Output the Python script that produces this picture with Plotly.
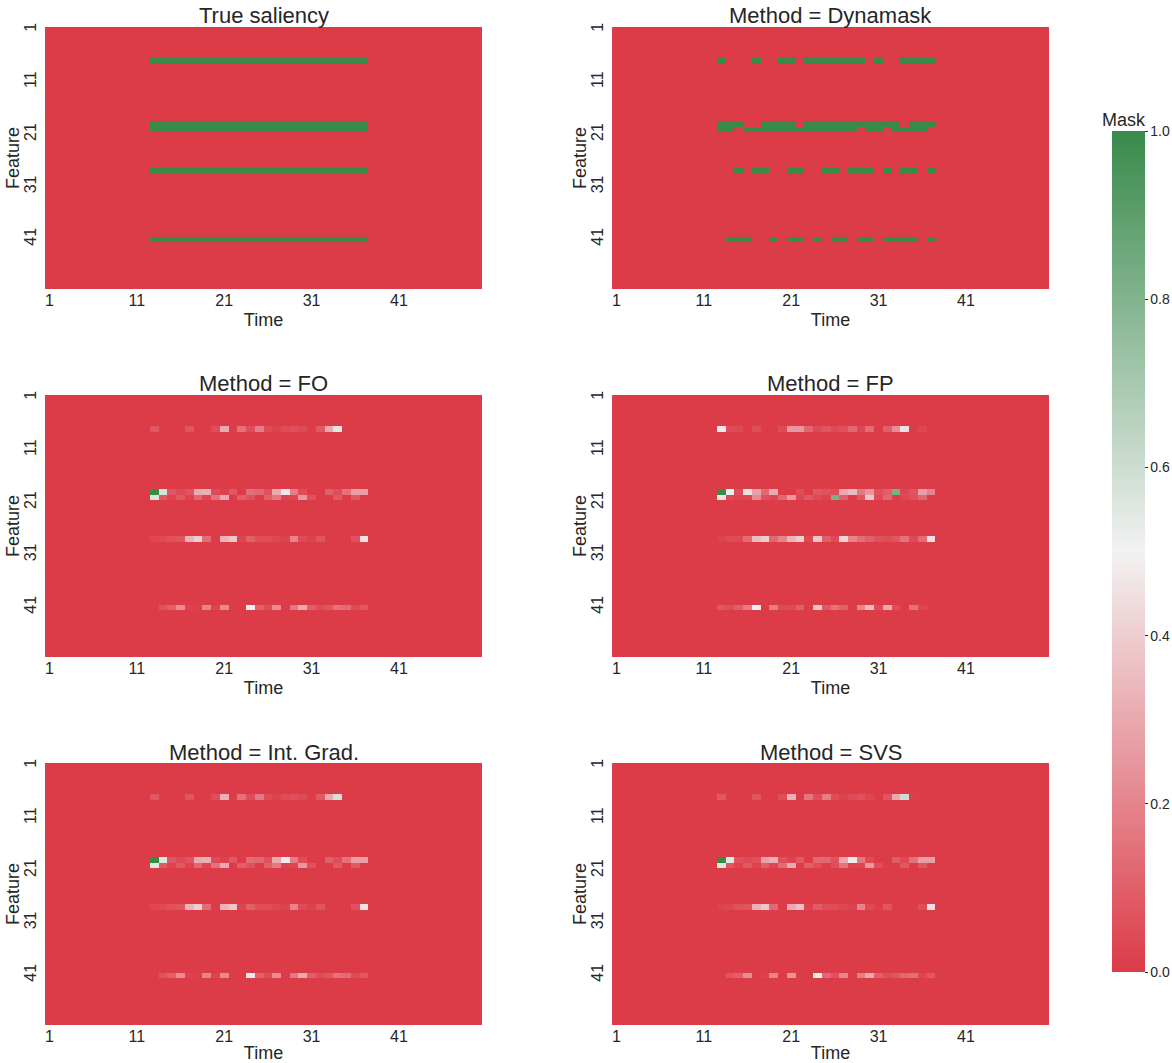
import numpy as np
import plotly.graph_objects as go

# ---- grid -----------------------------------------------------------------
N_TIME = 50
N_FEAT = 50
TIME_START = 13          # first time step of the salient window (1-based)
WINDOW = 25              # number of salient time steps
TICKS = [1, 11, 21, 31, 41]

# salient features (1-based)
SALIENT_FEATURES = [7, 19, 20, 28, 41]

# ---- True saliency: full window on every salient feature -------------------
true_f7 = [1] * WINDOW
true_f19 = [1] * WINDOW
true_f20 = [1] * WINDOW
true_f28 = [1] * WINDOW
true_f41 = [1] * WINDOW

# ---- Dynamask (binary mask), time steps 13..37 ----------------------------
dyn_f7 = [1, 0, 0, 0, 1, 0, 0, 1, 1, 0, 1, 1, 1, 1, 1, 1, 1, 0, 1, 0, 0, 1, 1, 1, 1]
dyn_f19 = [1, 1, 1, 0, 0, 1, 1, 1, 1, 0, 1, 1, 1, 1, 1, 1, 1, 1, 1, 1, 1, 0, 1, 1, 1]
dyn_f20 = [1, 1, 0, 1, 1, 1, 1, 1, 1, 1, 1, 1, 1, 1, 1, 1, 0, 1, 1, 0, 1, 1, 1, 1, 0]
dyn_f28 = [0, 0, 1, 0, 1, 1, 0, 0, 1, 1, 0, 0, 1, 1, 0, 1, 1, 1, 0, 1, 0, 1, 1, 0, 1]
dyn_f41 = [0, 1, 1, 1, 0, 0, 1, 0, 1, 1, 0, 1, 0, 1, 1, 0, 1, 1, 0, 1, 1, 1, 1, 0, 1]

# ---- FO --------------------------------------------------------------------
fo_f7 = [.08, 0, 0, 0, .07, 0, 0, .05, .30, 0, .15, .05, .18, .04, .02, .04, .06, .04, 0, .08, .30, .55, 0, 0, 0]
fo_f19 = [1.0, .57, .08, .04, .07, .30, .32, .05, .02, .08, 0, .14, .12, .06, .30, .47, .18, .05, 0, 0, .10, .05, .15, .27, .27]
fo_f20 = [.56, .08, .02, .08, .02, .12, .03, .15, .30, 0, .10, .06, 0, .10, .17, .02, .03, .25, .06, 0, 0, .08, 0, .08, 0]
fo_f28 = [.03, .04, .06, .07, .33, .40, .13, 0, .33, .38, .02, .10, .05, .05, .03, .02, .20, .04, .02, .07, 0, 0, 0, .06, .45]
fo_f41 = [0, .06, .10, .22, .02, .01, .20, .02, .22, 0, 0, .52, .10, .05, .22, 0, .17, .30, .10, .05, .07, .15, .13, .04, .08]

# ---- FP --------------------------------------------------------------------
fp_f7 = [.47, .04, .04, 0, .05, 0, 0, .04, .25, .25, .12, .04, .07, .04, .06, .12, .03, .13, 0, .10, .22, .45, 0, .03, 0]
fp_f19 = [1.0, .52, .05, .45, .28, .12, .30, 0, 0, .05, 0, .08, .06, .05, .30, .35, .17, .25, .06, .10, .82, .03, .07, .27, .20]
fp_f20 = [.46, .04, .02, .03, .22, .06, .03, .12, .25, .03, .08, .04, .02, .82, .10, 0, .07, .38, .04, .12, 0, .03, .06, .12, 0]
fp_f28 = [.02, .04, .04, .13, .35, .40, .12, .20, .33, .40, .03, .38, .10, .04, .42, .20, .14, .10, .06, .05, .07, .15, .04, .13, .45]
fp_f41 = [.07, .05, .10, .18, .52, 0, .18, .04, .04, .10, 0, .38, .08, .15, .10, 0, .20, .35, .04, .30, .05, 0, .15, .03, 0]

# ---- Int. Grad. ------------------------------------------------------------
ig_f7 = [.08, 0, 0, 0, .07, 0, 0, .05, .32, 0, .15, .05, .17, .04, .02, .04, .06, .04, 0, .08, .30, .58, 0, 0, 0]
ig_f19 = [1.0, .56, .08, .04, .07, .30, .32, .05, .02, .08, 0, .13, .12, .06, .30, .48, .18, .05, 0, 0, .10, .05, .15, .27, .27]
ig_f20 = [.55, .08, .02, .08, .02, .12, .03, .15, .30, 0, .10, .06, 0, .10, .17, .02, .03, .25, .06, 0, 0, .08, 0, .08, 0]
ig_f28 = [.03, .04, .06, .07, .33, .40, .13, 0, .33, .38, .02, .10, .05, .05, .03, .02, .20, .04, .02, .07, 0, 0, 0, .06, .45]
ig_f41 = [0, .06, .10, .22, .02, .01, .20, .02, .22, 0, 0, .53, .10, .05, .22, 0, .17, .30, .10, .05, .07, .15, .13, .04, .08]

# ---- SVS -------------------------------------------------------------------
svs_f7 = [.08, 0, 0, 0, .07, 0, 0, .05, .32, 0, .16, .05, .18, .05, .02, .04, .06, .03, 0, .07, .30, .60, .01, 0, 0]
svs_f19 = [1.0, .55, .06, .04, .06, .28, .32, .06, .02, .08, 0, .12, .12, .06, .30, .48, .17, .04, 0, 0, .09, .04, .15, .27, .27]
svs_f20 = [.55, .07, .02, .08, .02, .10, .03, .13, .30, 0, .10, .05, 0, .05, .15, .02, .03, .25, .05, 0, 0, .08, 0, .07, 0]
svs_f28 = [.02, .03, .06, .07, .32, .38, .12, 0, .30, .36, .02, .09, .05, .05, .03, .02, .20, .04, .01, .07, 0, 0, 0, .05, .45]
svs_f41 = [0, .07, .10, .22, 0, .02, .20, 0, .24, 0, 0, .52, .12, .06, .20, 0, .18, .30, .10, .05, .07, .12, .14, .03, .08]

PANELS = [
    ("True saliency", [true_f7, true_f19, true_f20, true_f28, true_f41]),
    ("Method = Dynamask", [dyn_f7, dyn_f19, dyn_f20, dyn_f28, dyn_f41]),
    ("Method = FO", [fo_f7, fo_f19, fo_f20, fo_f28, fo_f41]),
    ("Method = FP", [fp_f7, fp_f19, fp_f20, fp_f28, fp_f41]),
    ("Method = Int. Grad.", [ig_f7, ig_f19, ig_f20, ig_f28, ig_f41]),
    ("Method = SVS", [svs_f7, svs_f19, svs_f20, svs_f28, svs_f41]),
]


def build_mask(rows):
    z = np.zeros((N_FEAT, N_TIME))
    for feat, vals in zip(SALIENT_FEATURES, rows):
        z[feat - 1, TIME_START - 1:TIME_START - 1 + WINDOW] = vals
    return z


# red -> light grey -> green diverging map
COLORSCALE = [
    [0.0, "rgb(220,59,72)"],
    [0.5, "rgb(242,242,242)"],
    [1.0, "rgb(56,138,75)"],
]

W, H = 1172, 1063
FONT = "Liberation Sans, Arial, sans-serif"
TXT = "#262626"

# panel boxes in pixels: (left, right, top, bottom)
COLS = [(45, 482), (612, 1049)]
ROWS = [(27, 289), (395, 657), (763, 1025)]

fig = go.Figure()
annotations = []
for i, (title, rows) in enumerate(PANELS):
    r, c = divmod(i, 2)
    left, right = COLS[c]
    top, bottom = ROWS[r]
    xa = "x" if i == 0 else f"x{i + 1}"
    ya = "y" if i == 0 else f"y{i + 1}"
    fig.add_trace(go.Heatmap(
        z=build_mask(rows),
        x=list(range(1, N_TIME + 1)),
        y=list(range(1, N_FEAT + 1)),
        zmin=0, zmax=1,
        colorscale=COLORSCALE,
        showscale=(i == 0),
        xaxis=xa, yaxis=ya,
        colorbar=dict(
            x=1112 / W, xanchor="left",
            y=(H - 972) / H, yanchor="bottom",
            len=(972 - 131) / H, lenmode="fraction",
            thickness=33, thicknessmode="pixels",
            outlinewidth=0, xpad=0, ypad=0,
            tickvals=[0, 0.2, 0.4, 0.6, 0.8, 1.0],
            ticktext=["0.0", "0.2", "0.4", "0.6", "0.8", "1.0"],
            ticks="outside", ticklen=3, tickcolor=TXT,
            tickfont=dict(family=FONT, size=14, color=TXT),
        ),
    ))
    xkey = "xaxis" if i == 0 else f"xaxis{i + 1}"
    ykey = "yaxis" if i == 0 else f"yaxis{i + 1}"
    fig.update_layout({
        xkey: dict(
            domain=[left / W, right / W], anchor=ya,
            range=[0.5, N_TIME + 0.5],
            tickvals=TICKS, ticktext=[str(t) for t in TICKS],
            ticks="", showline=False, showgrid=False, zeroline=False,
            tickfont=dict(family=FONT, size=16, color=TXT),
            title=dict(text="Time", font=dict(family=FONT, size=18, color=TXT), standoff=5),
        ),
        ykey: dict(
            domain=[(H - bottom) / H, (H - top) / H], anchor=xa,
            range=[N_FEAT + 0.5, 0.5],
            tickvals=TICKS, ticktext=[str(t) for t in TICKS],
            tickangle=-90, ticklabelstandoff=5,
            ticks="", showline=False, showgrid=False, zeroline=False,
            tickfont=dict(family=FONT, size=16, color=TXT),
        ),
    })
    # panel title
    annotations.append(dict(
        text=title, x=(left + right) / 2 / W, y=(H - top + 11) / H,
        xref="paper", yref="paper", xanchor="center", yanchor="middle",
        showarrow=False, font=dict(family=FONT, size=22, color=TXT),
    ))
    # y-axis title
    annotations.append(dict(
        text="Feature", textangle=-90,
        x=(left - 32) / W, y=(H - (top + bottom) / 2) / H,
        xref="paper", yref="paper", xanchor="center", yanchor="middle",
        showarrow=False, font=dict(family=FONT, size=18, color=TXT),
    ))

annotations.append(dict(
    text="Mask", x=1124 / W, y=(H - 120) / H,
    xref="paper", yref="paper", xanchor="center", yanchor="middle",
    showarrow=False, font=dict(family=FONT, size=18, color=TXT),
))

fig.update_layout(
    width=W, height=H,
    margin=dict(l=0, r=0, t=0, b=0, autoexpand=False),
    paper_bgcolor="white", plot_bgcolor="white",
    annotations=annotations,
    showlegend=False,
)

fig.write_html("out.html")
